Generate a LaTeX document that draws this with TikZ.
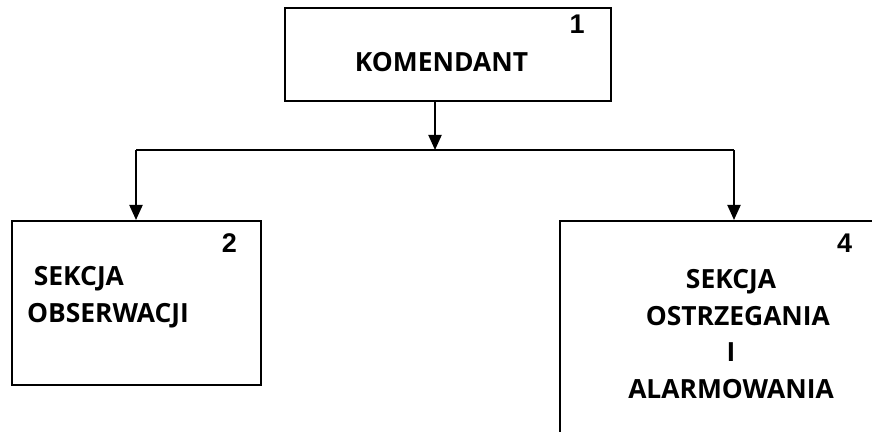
\documentclass[tikz,border=0pt]{standalone}
\usepackage{fontspec}
\setmainfont{Open Sans}
\newfontfamily\numfont{Liberation Sans}
\usetikzlibrary{arrows.meta}

\tikzset{
  box/.style={draw,inner sep=0pt},
  txt/.style={font=\fontsize{13.2}{18.4}\selectfont\bfseries,inner sep=0pt},
  nr/.style={font=\numfont\fontsize{13.5}{15}\selectfont\bfseries,inner sep=0pt}
}

\begin{document}
\begin{tikzpicture}[x=0.5pt,y=-0.5pt,line width=1pt,>={Triangle[width=6.5pt,length=7.5pt]}]
\useasboundingbox (0,0) rectangle (872,432);
\clip (0,0) rectangle (872,432);

\node[box,minimum width=163pt,minimum height=46.5pt] (komendant) at (448,54.5) {};
\node[box,minimum width=124.5pt,minimum height=82pt] (obserwacja) at (136.5,303) {};
\node[box,minimum width=170pt,minimum height=124.5pt] (ostrzeganie) at (730,345.5) {};

\node[txt] (komtxt) at (441.5,62) {KOMENDANT};
\node[txt,anchor=west,align=left] (obstxt) at (26,297) {\ SEKCJA\\OBSERWACJI};
\node[txt,align=center] (ostxt) at (731,334) {SEKCJA\\\ \ OSTRZEGANIA\\I\\ALARMOWANIA};

\node[nr] (nr1) at (577,24) {1};
\node[nr] (nr2) at (229.5,243.5) {2};
\node[nr] (nr4) at (844.5,243.5) {4};

\coordinate (split) at (435,150);
\coordinate (leftend) at (136,150);
\coordinate (rightend) at (734,150);

\draw[->] (komendant.south -| split) -- (split);
\draw (leftend) -- (rightend);
\draw[->] (leftend) -- (leftend |- obserwacja.north);
\draw[->] (rightend) -- (rightend |- ostrzeganie.north);
\end{tikzpicture}
\end{document}
